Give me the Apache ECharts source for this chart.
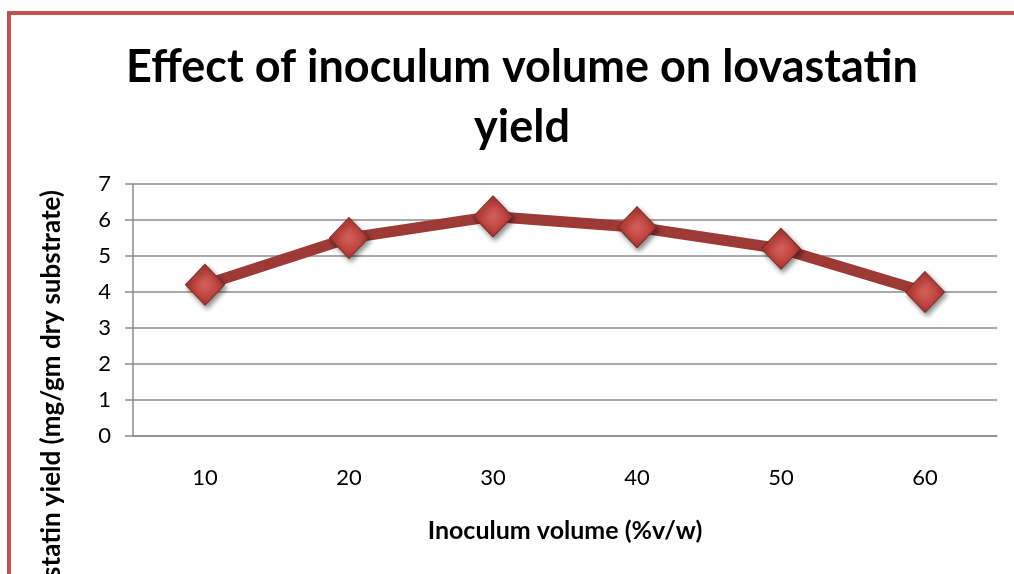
<!DOCTYPE html>
<html>
<head>
<meta charset="utf-8">
<script src="https://cdn.jsdelivr.net/npm/echarts@6/dist/echarts.min.js"></script>
<style>
html,body{margin:0;padding:0;background:#fff;}
#chart{width:1014px;height:574px;}
</style>
</head>
<body>
<div id="chart"></div>
<script>
const categories = ['10', '20', '30', '40', '50', '60'];
const yieldValues = [4.2, 5.5, 6.1, 5.8, 5.2, 4.0];
const yTicks = [0, 1, 2, 3, 4, 5, 6, 7];
const titleText = 'Effect of inoculum volume on lovastatin\nyield';
const xTitle = 'Inoculum volume (%v/w)';
const yTitle = 'Lovastatin yield (mg/gm dry substrate)';

const FONT = 'Lato, "Liberation Sans", sans-serif';
const chart = echarts.init(document.getElementById('chart'));
chart.setOption({
  backgroundColor: '#fff',
  animation: false,
  title: {
    text: titleText,
    left: 517,
    top: 32,
    textAlign: 'center',
    textStyle: {fontFamily: FONT, fontWeight: 'bold', fontSize: 45, lineHeight: 60, color: '#000'}
  },
  graphic: [
    {type: 'rect', shape: {x: 9, y: 13, width: 1200, height: 800}, style: {fill: 'none', stroke: '#C5504C', lineWidth: 4}, z: 100},
    {type: 'text', x: 52, y: 411, rotation: Math.PI / 2,
     style: {text: yTitle, fontFamily: FONT, fontWeight: 'bold', fontSize: 26, fill: '#000', align: 'center', verticalAlign: 'middle'}}
  ],
  grid: {left: 133, right: 17, top: 184, bottom: 138},
  xAxis: {
    type: 'category',
    data: categories,
    boundaryGap: true,
    name: xTitle,
    nameLocation: 'middle',
    nameGap: 82,
    nameTextStyle: {fontFamily: FONT, fontWeight: 'bold', fontSize: 25, color: '#000'},
    axisLine: {lineStyle: {color: '#8c8c8c', width: 1.5}},
    axisTick: {show: false},
    axisLabel: {margin: 31, fontFamily: FONT, fontSize: 22, color: '#000'}
  },
  yAxis: {
    type: 'value',
    min: 0, max: 7, interval: 1,
    axisLine: {show: true, lineStyle: {color: '#8c8c8c', width: 1.5}},
    axisTick: {show: true, length: 8, lineStyle: {color: '#8c8c8c', width: 1.5}},
    splitLine: {lineStyle: {color: '#8c8c8c', width: 1.5}},
    axisLabel: {margin: 22, fontFamily: FONT, fontSize: 22, color: '#000',
      formatter: v => yTicks.includes(v) ? String(v) : ''}
  },
  series: [{
    type: 'line',
    data: yieldValues,
    lineStyle: {color: '#9E3A36', width: 11},
    symbol: 'diamond',
    symbolSize: [39, 41],
    itemStyle: {
      color: new echarts.graphic.RadialGradient(0.5, 0.5, 0.6, [
        {offset: 0, color: '#D4605A'},
        {offset: 0.6, color: '#BB3F3A'},
        {offset: 1, color: '#9A2A27'}
      ]),
      borderColor: '#7E2C2A', borderWidth: 1,
      shadowBlur: 5, shadowOffsetX: 2, shadowOffsetY: 3, shadowColor: 'rgba(0,0,0,0.45)'
    }
  }]
});
</script>
</body>
</html>
